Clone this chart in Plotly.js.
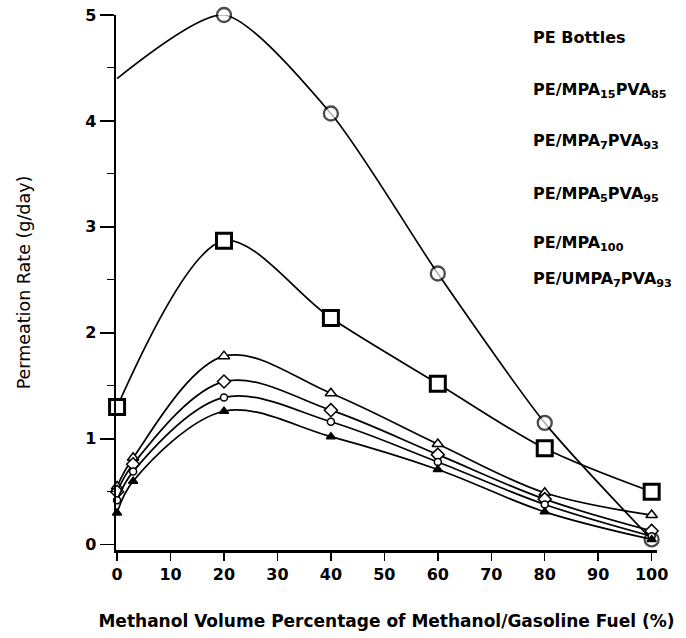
<!DOCTYPE html>
<html>
<head>
<meta charset="utf-8">
<script src="https://cdn.plot.ly/plotly-3.0.1.min.js"></script>
<style>html,body{margin:0;padding:0;background:#fff;}#chart{width:686px;height:638px;}</style>
</head>
<body>
<div id="chart"></div>
<script>
// Data
const xMain = [0, 20, 40, 60, 80, 100];
const peBottles = [4.4, 5.0, 4.07, 2.56, 1.15, 0.05];
const mpa15pva85 = [1.3, 2.87, 2.14, 1.52, 0.91, 0.5];
const xLow = [0, 3, 20, 40, 60, 80, 100];
const mpa7pva93 = [0.55, 0.82, 1.78, 1.43, 0.95, 0.49, 0.28];
const mpa5pva95 = [0.5, 0.76, 1.54, 1.27, 0.85, 0.43, 0.13];
const mpa100 = [0.42, 0.69, 1.39, 1.16, 0.78, 0.38, 0.08];
const umpa7pva93 = [0.3, 0.6, 1.26, 1.02, 0.71, 0.31, 0.05];
const seriesNames = ['PE Bottles', 'PE/MPA<sub>15</sub>PVA<sub>85</sub>', 'PE/MPA<sub>7</sub>PVA<sub>93</sub>', 'PE/MPA<sub>5</sub>PVA<sub>95</sub>', 'PE/MPA<sub>100</sub>', 'PE/UMPA<sub>7</sub>PVA<sub>93</sub>'];
const xTicks = [0, 10, 20, 30, 40, 50, 60, 70, 80, 90, 100];
const yTicks = [0, 1, 2, 3, 4, 5];

const FONT = 'DejaVu Sans, Liberation Sans, Arial, sans-serif';

function tr(x, y, sym, size, mlw, fill, smooth) {
  return {
    x: x, y: y, type: 'scatter', mode: 'lines+markers',
    line: {color: '#000', width: 1.7, shape: 'spline', smoothing: smooth},
    marker: {symbol: sym, size: size, color: fill, line: {color: '#000', width: mlw}},
    showlegend: false, cliponaxis: false
  };
}
const data = [
  tr(xMain, peBottles, 'circle', [0, 14, 14, 14, 14, 14], 2.3, '#fff', 0.7),
  tr(xMain, mpa15pva85, 'square', 15, 3, '#fff', 0.9),
  tr(xLow, mpa7pva93, 'triangle-up', 10, 1.5, '#fff', 1),
  tr(xLow, mpa5pva95, 'diamond', 10, 1.5, '#fff', 1),
  tr(xLow, mpa100, 'circle', 7, 1.5, '#fff', 1),
  tr(xLow, umpa7pva93, 'triangle-up', 8, 1.5, '#000', 1)
];

const legendY = [38, 90, 142, 194, 243, 280];
const annotations = seriesNames.map((n, i) => ({
  text: n, xref: 'paper', yref: 'paper', x: (531 - 116) / (657 - 116),
  y: 1 - (legendY[i] - 15) / (550 - 15), xanchor: 'left', yanchor: 'middle',
  showarrow: false, font: {family: FONT, size: 16, color: '#000', weight: 'bold'}
}));

const layout = {
  width: 686, height: 638,
  margin: {l: 116, r: 29, t: 15, b: 88},
  paper_bgcolor: '#fff', plot_bgcolor: '#fff',
  font: {family: FONT, color: '#000'},
  xaxis: {
    range: [-0.2, 101], tickvals: xTicks, ticktext: xTicks.map(String),
    showgrid: false, zeroline: false, showline: true, linecolor: '#000', linewidth: 2.5,
    ticks: 'outside', ticklen: 8, tickwidth: 1.5, tickcolor: '#000',
    tickfont: {size: 16, weight: 'bold'},
    title: {text: 'Methanol Volume Percentage of Methanol/Gasoline Fuel (%)', font: {size: 17, weight: 'bold'}, standoff: 33}
  },
  yaxis: {
    range: [-0.05, 5.0], tickvals: yTicks, ticktext: yTicks.map(String),
    showgrid: false, zeroline: false, showline: true, linecolor: '#000', linewidth: 2.5,
    ticks: 'outside', ticklen: 14, tickwidth: 1.5, tickcolor: '#000',
    minor: {dtick: 0.5, ticks: 'outside', ticklen: 7, tickwidth: 1, tickcolor: '#000', showgrid: false},
    tickfont: {size: 16, weight: 'bold'},
    title: {text: 'Permeation Rate (g/day)', font: {size: 17.5}, standoff: 50}
  },
  annotations: annotations
};
Plotly.newPlot('chart', data, layout, {displayModeBar: false, staticPlot: true});
</script>
</body>
</html>
